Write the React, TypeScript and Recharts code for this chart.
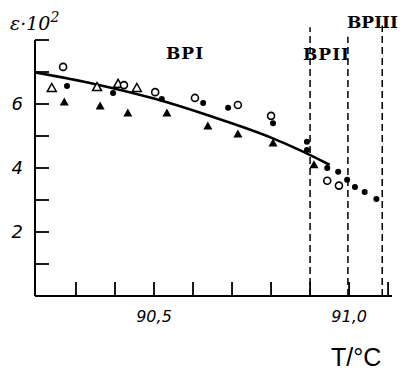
import React from 'react';
import { ComposedChart, Scatter, Line, XAxis, YAxis, ReferenceLine } from 'recharts';

// temperature (°C) vs ε·10²
const openCircles = [
  { t: 90.267, e: 7.16 }, { t: 90.423, e: 6.59 }, { t: 90.503, e: 6.37 }, { t: 90.605, e: 6.19 },
  { t: 90.715, e: 5.97 }, { t: 90.8, e: 5.63 }, { t: 90.944, e: 3.6 }, { t: 90.974, e: 3.45 },
];
const filledCircles = [
  { t: 90.277, e: 6.56 }, { t: 90.395, e: 6.34 }, { t: 90.52, e: 6.16 }, { t: 90.626, e: 6.03 },
  { t: 90.69, e: 5.88 }, { t: 90.805, e: 5.4 }, { t: 90.892, e: 4.82 }, { t: 90.892, e: 4.56 },
  { t: 90.944, e: 4.0 }, { t: 90.972, e: 3.88 }, { t: 90.995, e: 3.63 }, { t: 91.015, e: 3.41 },
  { t: 91.04, e: 3.25 }, { t: 91.07, e: 3.03 },
];
const openTriangles = [
  { t: 90.238, e: 6.5 }, { t: 90.354, e: 6.53 }, { t: 90.408, e: 6.63 }, { t: 90.456, e: 6.5 },
];
const filledTriangles = [
  { t: 90.27, e: 6.06 }, { t: 90.362, e: 5.94 }, { t: 90.433, e: 5.72 }, { t: 90.533, e: 5.72 },
  { t: 90.638, e: 5.31 }, { t: 90.715, e: 5.06 }, { t: 90.805, e: 4.78 }, { t: 90.91, e: 4.1 },
];
const fitCurve = [
  { t: 90.19, e: 7.0 }, { t: 90.35, e: 6.62 }, { t: 90.5, e: 6.17 }, { t: 90.65, e: 5.6 },
  { t: 90.8, e: 4.95 }, { t: 90.875, e: 4.55 }, { t: 90.95, e: 4.1 },
];
const transitions = [
  { t: 90.9, top: 8.4 },
  { t: 90.997, top: 8.1 },
  { t: 91.085, top: 8.45 },
];
const xTicks = [90.2, 90.3, 90.4, 90.5, 90.6, 90.7, 90.8, 90.9, 91.0, 91.1];
const xTickLabels: Record<string, string> = { '90.5': '90,5', '91': '91,0' };
const yTicks = [1, 2, 3, 4, 5, 6, 7, 8];
const yTickLabels = [2, 4, 6];

const X_DOMAIN: [number, number] = [90.195, 91.11];
const Y_DOMAIN: [number, number] = [0, 8];
// inward tick length, expressed in data units of the other axis (~14 px)
const X_TICK_LEN = 0.44; // in ε units
const Y_TICK_LEN = 0.036; // in °C units

const OpenCircle = (p: any) => (
  <circle cx={p.cx} cy={p.cy} r={3.5} fill="#fff" stroke="#000" strokeWidth={1.6} />
);
const FilledCircle = (p: any) => <circle cx={p.cx} cy={p.cy} r={3} fill="#000" />;
const tri = (cx: number, cy: number) =>
  `M${cx},${cy - 4.5} L${cx + 4.5},${cy + 3.5} L${cx - 4.5},${cy + 3.5} Z`;
const OpenTriangle = (p: any) => (
  <path d={tri(p.cx, p.cy)} fill="#fff" stroke="#000" strokeWidth={1.5} />
);
const FilledTriangle = (p: any) => <path d={tri(p.cx, p.cy)} fill="#000" />;

const XTick = (p: any) => {
  const v = Number(p.payload.value);
  const label = xTickLabels[String(Math.round(v * 100) / 100)] || '';
  return (
    <text x={Number(p.x)} y={Number(p.y) + 10} textAnchor="middle" fontSize={16} fontStyle="italic"
      fontFamily="DejaVu Sans" fill="#000">
      {label}
    </text>
  );
};

const YTick = (p: any) => {
  const v = Number(p.payload.value);
  return (
    <text x={Number(p.x)} y={Number(p.y) + 6} textAnchor="end" fontSize={18} fontStyle="italic"
      fontFamily="DejaVu Sans" fill="#000">
      {yTickLabels.includes(v) ? String(v) : ''}
    </text>
  );
};

export default function App() {
  return (
    <div style={{ position: 'absolute', left: 0, top: 0, width: 403, height: 370, background: '#fff' }}>
      <ComposedChart
        width={403}
        height={370}
        margin={{ top: 40, right: 11, bottom: 44, left: 0 }}
      >
        <XAxis
          type="number"
          dataKey="t"
          domain={X_DOMAIN}
          ticks={xTicks}
          allowDataOverflow
          height={30}
          tickSize={0}
          tickMargin={16}
          axisLine={{ stroke: '#000', strokeWidth: 2 }}
          tickLine={false}
          tick={<XTick />}
        />
        <YAxis
          type="number"
          dataKey="e"
          domain={Y_DOMAIN}
          ticks={yTicks}
          width={35}
          tickSize={0}
          tickMargin={12}
          axisLine={{ stroke: '#000', strokeWidth: 2 }}
          tickLine={false}
          tick={<YTick />}
        />
        {xTicks.slice(1).map((v) => (
          <ReferenceLine
            key={'xt' + v}
            segment={[{ x: v, y: Y_DOMAIN[0] }, { x: v, y: Y_DOMAIN[0] + X_TICK_LEN }]}
            ifOverflow="visible"
            stroke="#000"
            strokeWidth={1.8}
          />
        ))}
        {yTicks.map((v) => (
          <ReferenceLine
            key={'yt' + v}
            segment={[{ x: X_DOMAIN[0], y: v }, { x: X_DOMAIN[0] + Y_TICK_LEN, y: v }]}
            ifOverflow="visible"
            stroke="#000"
            strokeWidth={1.8}
          />
        ))}
        {transitions.map((tr) => (
          <ReferenceLine
            key={tr.t}
            segment={[{ x: tr.t, y: 0 }, { x: tr.t, y: tr.top }]}
            ifOverflow="visible"
            stroke="#000"
            strokeWidth={1.5}
            strokeDasharray="7 4"
          />
        ))}
        <Line
          data={fitCurve}
          dataKey="e"
          type="monotone"
          stroke="#000"
          strokeWidth={2.6}
          dot={false}
          isAnimationActive={false}
        />
        <Scatter data={filledTriangles} dataKey="e" shape={FilledTriangle} isAnimationActive={false} />
        <Scatter data={openTriangles} dataKey="e" shape={OpenTriangle} isAnimationActive={false} />
        <Scatter data={filledCircles} dataKey="e" shape={FilledCircle} isAnimationActive={false} />
        <Scatter data={openCircles} dataKey="e" shape={OpenCircle} isAnimationActive={false} />
      </ComposedChart>
      <svg
        width={403}
        height={370}
        style={{ position: 'absolute', left: 0, top: 0, pointerEvents: 'none' }}
      >
        <text x={10} y={30} fontSize={19} fontStyle="italic" fontFamily="DejaVu Serif" fill="#000">
          ε·10
          <tspan dy={-8} fontSize={14}>2</tspan>
        </text>
        <g fontFamily="DejaVu Serif" fontWeight="bold" fontSize={17} fill="#000">
          <text x={166} y={59} letterSpacing={1}>BPI</text>
          <text x={303} y={60} letterSpacing={1}>BPII</text>
          <text x={347} y={28} letterSpacing={0}>BPIII</text>
        </g>
        <text x={331} y={366} fontSize={25} fontFamily="Liberation Sans" fill="#000">
          T/°C
        </text>
      </svg>
    </div>
  );
}
